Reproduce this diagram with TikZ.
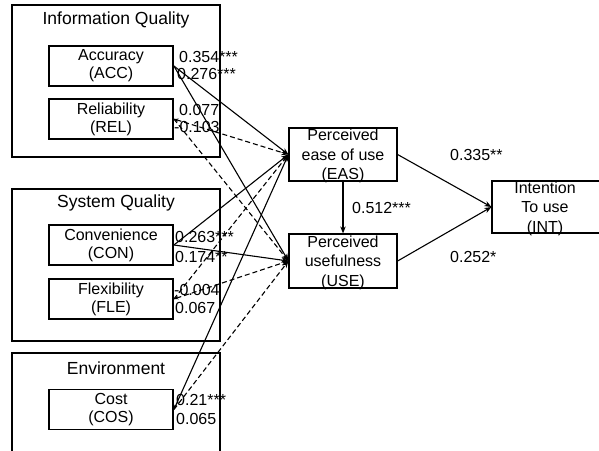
\documentclass[tikz,border=0pt]{standalone}
\usepackage{fontspec}
\setmainfont{Liberation Sans}
\usetikzlibrary{arrows.meta}
\begin{document}
\begin{tikzpicture}[x=1pt,y=-1pt,
  frame/.style={draw,line width=1.2pt,inner sep=0},
  vbox/.style={draw,line width=1.8pt,minimum width=124pt,minimum height=40pt,inner sep=0},
  cbox/.style={draw,line width=1.2pt,inner sep=0},
  ttl/.style={align=center,inner sep=0,font=\fontsize{17.5}{20}\selectfont},
  txt/.style={align=center,inner sep=0,font=\fontsize{16}{18}\selectfont},
  rtxt/.style={align=center,inner sep=0,font=\fontsize{16}{19.5}\selectfont},
  lbl/.style={anchor=west,inner sep=0,font=\fontsize{16}{18}\selectfont},
  arr/.style={line width=1.1pt,-{Stealth[length=7pt,width=5.5pt]}},
  darr/.style={arr,dash pattern=on 5pt off 3pt},
  stip/.style={{Stealth[length=4.5pt,width=3.5pt]}-{Stealth[length=7pt,width=5.5pt]}}
]
\clip (0,0) rectangle (599,450);
\fill[white] (0,0) rectangle (599,450);

% outer frames
\node[frame,minimum width=208pt,minimum height=152pt] (iq) at (116,81) {};
\node[frame,minimum width=208pt,minimum height=152pt] (sq) at (116,265) {};
\node[frame,minimum width=208pt,minimum height=114pt] (env) at (116,410) {};
\node[ttl] (iqt) at (116,20) {Information Quality};
\node[ttl] (sqt) at (116,203) {System Quality};
\node[ttl] (envt) at (116,368) {Environment};

% inner boxes
\node[vbox,txt] (acc) at (111,66) {Accuracy\\(ACC)};
\node[vbox,txt] (rel) at (111,119) {Reliability\\(REL)};
\node[vbox,txt] (con) at (111,245) {Convenience\\(CON)};
\node[vbox,txt] (fle) at (111,299) {Flexibility\\(FLE)};
\node[vbox,txt] (cos) at (111,409.5) {Cost\\(COS)};

% right boxes
\node[cbox,minimum width=108pt,minimum height=53pt] (eas) at (343,154.5) {};
\node[rtxt] (east) at (343,156) {Perceived\\ease of use\\(EAS)};
\node[cbox,minimum width=108pt,minimum height=54pt] (use) at (343,261) {};
\node[rtxt] (uset) at (343,262.5) {Perceived\\usefulness\\(USE)};
\node[cbox,minimum width=112pt,minimum height=52pt] (int) at (548,207) {};
\node[rtxt] (intt) at (545,208.5) {Intention\\To use\\(INT)};

% connectors
\draw[arr] (acc.east) -- (eas.west);
\draw[arr] (acc.east) -- (use.west);
\draw[darr,stip] (rel.east) -- (eas.west);
\draw[darr] (rel.east) -- (use.west);
\draw[arr] (con.east) -- (eas.west);
\draw[arr] (con.east) -- (use.west);
\draw[darr] (fle.east) -- (eas.west);
\draw[darr,stip] (fle.east) -- (use.west);
\draw[arr,stip] (cos.east) -- (eas.west);
\draw[darr] (cos.east) -- (use.west);
\draw[arr] (eas.east) -- (int.west);
\draw[arr] (use.east) -- (int.west);
\draw[arr] (eas.south) -- (use.north);

% labels
\node[lbl] (l1) at (179,57) {0.354***};
\node[lbl] (l2) at (177,74) {0.276***};
\node[lbl] (l3) at (179,110) {0.077};
\node[lbl] (l4) at (174,127) {-0.103};
\node[lbl] (l5) at (175,237) {0.263***};
\node[lbl] (l6) at (175,257) {0.174**};
\node[lbl] (l7) at (174,290) {-0.004};
\node[lbl] (l8) at (175,308) {0.067};
\node[lbl] (l9) at (176,400) {0.21***};
\node[lbl] (l10) at (176,419) {0.065};
\node[lbl] (l11) at (450,155) {0.335**};
\node[lbl] (l12) at (352,208) {0.512***};
\node[lbl] (l13) at (450,257) {0.252*};
\end{tikzpicture}
\end{document}
